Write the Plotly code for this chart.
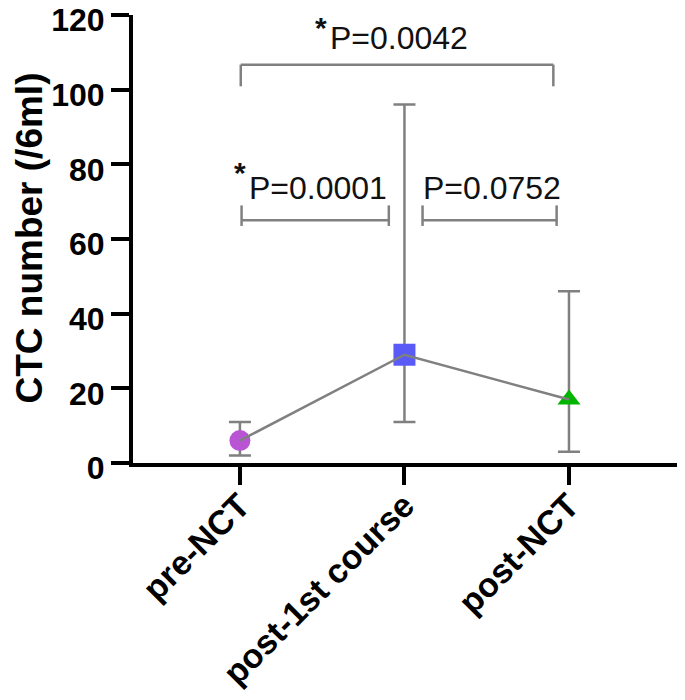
import plotly.graph_objects as go

# ---- data ----
categories = ["pre-NCT", "post-1st course", "post-NCT"]
medians = [6, 29, 17]
upper = [11, 96, 46]
lower = [2, 11, 3]
marker_symbols = ["circle", "square", "triangle-up"]
marker_colors = ["#b955d4", "#5a5af6", "#00b400"]

p_labels = ["P=0.0001", "P=0.0752", "P=0.0042"]
p_significant = [True, False, True]
y_title = "CTC number (/6ml)"
y_ticks = [0, 20, 40, 60, 80, 100, 120]

# ---- layout helpers (bracket / label geometry in data units) ----
br_x0 = [0.01, 1.11, 0.005]
br_x1 = [0.905, 1.925, 1.905]
br_y = [65, 65, 106.7]
br_tick_top = [69, 69, 106.7]
br_tick_bot = [63.5, 63.5, 100.9]
txt_x = [0.052, 1.109, 0.544]      # left edge of P text
txt_y = [68.6, 68.6, 108.8]        # bottom edge of P text
star_y = [73.2, None, 112.0]       # bottom edge of asterisk text

GRAY = "#808080"
FONT = "Liberation Sans, Arial, sans-serif"

W, H = 677, 692
ML, MR, MT, MB = 125, 4, 7, 237
PW = W - ML - MR
PH = H - MT - MB

xs = list(range(len(categories)))

fig = go.Figure()
sizes = [21, 22, 20]
for i in xs:
    fig.add_trace(go.Scatter(
        x=[i], y=[medians[i]], mode="markers",
        marker=dict(symbol=marker_symbols[i], color=marker_colors[i], size=sizes[i], line=dict(width=0)),
        error_y=dict(type="data", symmetric=False,
                     array=[upper[i] - medians[i]], arrayminus=[medians[i] - lower[i]],
                     color=GRAY, thickness=2.5, width=11),
        cliponaxis=False, showlegend=False, hoverinfo="skip"))

fig.add_trace(go.Scatter(x=xs, y=medians, mode="lines",
                         line=dict(color=GRAY, width=2.5),
                         cliponaxis=False, showlegend=False, hoverinfo="skip"))

shapes = []
annotations = []
for k in range(len(p_labels)):
    shapes.append(dict(type="line", xref="x", yref="y", x0=br_x0[k], x1=br_x1[k], y0=br_y[k], y1=br_y[k],
                       line=dict(color=GRAY, width=2.5)))
    for xx in (br_x0[k], br_x1[k]):
        shapes.append(dict(type="line", xref="x", yref="y", x0=xx, x1=xx, y0=br_tick_bot[k], y1=br_tick_top[k],
                           line=dict(color=GRAY, width=2.5)))
    annotations.append(dict(x=txt_x[k], y=txt_y[k], xref="x", yref="y", text=p_labels[k],
                            showarrow=False, font=dict(family=FONT, size=32, color="#111111"),
                            xanchor="left", yanchor="bottom", borderpad=0))
    if p_significant[k]:
        annotations.append(dict(x=txt_x[k], y=star_y[k], xref="x", yref="y", text="*", xshift=-1,
                                showarrow=False, font=dict(family=FONT, size=30, color="#111111", weight="bold"),
                                xanchor="right", yanchor="bottom", borderpad=0))

# y-axis title placed at an exact pixel position
annotations.append(dict(x=(21 - ML) / PW, y=(455 - 230.5) / PH, xref="paper", yref="paper",
                        text=y_title, textangle=-90, showarrow=False,
                        font=dict(family=FONT, size=37, color="black", weight="bold"),
                        xanchor="center", yanchor="middle", borderpad=0))

fig.update_layout(
    width=W, height=H,
    margin=dict(l=ML, r=MR, t=MT, b=MB),
    paper_bgcolor="white", plot_bgcolor="white",
    shapes=shapes, annotations=annotations,
    font=dict(family=FONT, color="black"),
)

fig.update_xaxes(
    tickmode="array", tickvals=xs, ticktext=categories,
    range=[-0.650, 2.681], showgrid=False, zeroline=False, automargin=False,
    showline=True, linecolor="black", linewidth=4,
    ticks="outside", ticklen=18, tickwidth=4, tickcolor="black",
    tickangle=-45, ticklabelstandoff=-13,
    tickfont=dict(family=FONT, size=34, color="black", weight="bold"),
)
fig.update_yaxes(
    range=[0, 120], tickvals=y_ticks,
    showgrid=False, zeroline=False, automargin=False, ticklabeloverflow="allow",
    showline=True, linecolor="black", linewidth=4,
    ticks="outside", ticklen=18, tickwidth=4, tickcolor="black",
    ticklabelshift=5,
    tickfont=dict(family=FONT, size=32, color="black", weight="bold"),
)

fig.write_html("out.html")
